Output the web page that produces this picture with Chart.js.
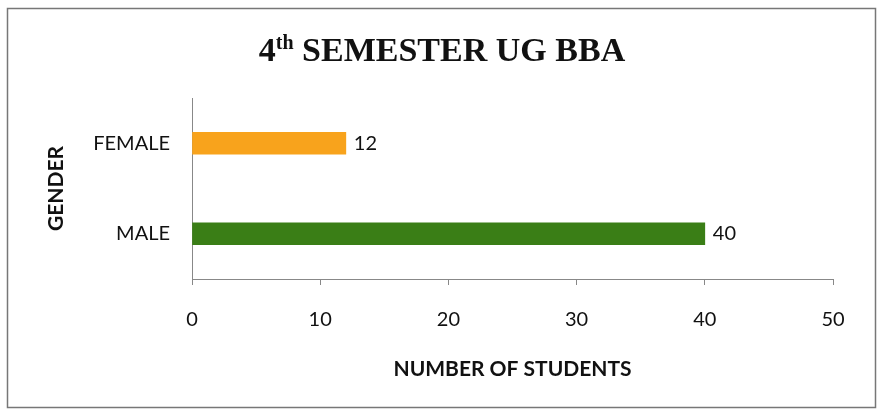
<!DOCTYPE html>
<html>
<head>
<meta charset="utf-8">
<script src="https://cdn.jsdelivr.net/npm/chart.js@4"></script>
<style>
  html, body { margin: 0; padding: 0; background: #fff; }
  #wrap { width: 884px; height: 417px; position: relative; }
</style>
</head>
<body>
<div id="wrap"><canvas id="chart"></canvas></div>
<script>
const categories = ['FEMALE', 'MALE'];
const students = [12, 40];
const barColors = ['#f8a31c', '#3a7e16'];
const xTicks = [0, 10, 20, 30, 40, 50];

const labelFont = 'Lato, "Open Sans", sans-serif';

// frame around the whole chart
const framePlugin = {
    id: 'frame',
    beforeDraw(chart) {
        const ctx = chart.ctx;
        ctx.save();
        ctx.fillStyle = '#fff';
        ctx.fillRect(0, 0, chart.width, chart.height);
        ctx.strokeStyle = '#777';
        ctx.lineWidth = 1.5;
        ctx.strokeRect(7.5, 8.5, 868, 399);
        ctx.restore();
    }
};

// title with superscript "th"
const titlePlugin = {
    id: 'supTitle',
    afterDraw(chart) {
        const ctx = chart.ctx;
        const big = 'bold 34px "Liberation Serif", "Times New Roman", serif';
        const small = 'bold 20px "Liberation Serif", "Times New Roman", serif';
        const parts = [
            { t: '4', f: big, dy: 0 },
            { t: 'th', f: small, dy: -12 },
            { t: ' SEMESTER UG BBA', f: big, dy: 0 }
        ];
        ctx.save();
        ctx.fillStyle = '#111';
        ctx.textBaseline = 'alphabetic';
        let total = 0;
        parts.forEach(p => { ctx.font = p.f; p.w = ctx.measureText(p.t).width; total += p.w; });
        let x = 442 - total / 2;
        const baseY = 61;
        parts.forEach(p => {
            ctx.font = p.f;
            ctx.fillText(p.t, x, baseY + p.dy);
            x += p.w;
        });
        ctx.restore();
    }
};

// value labels at the bar ends
const valuePlugin = {
    id: 'values',
    afterDatasetsDraw(chart) {
        const ctx = chart.ctx;
        const meta = chart.getDatasetMeta(0);
        ctx.save();
        ctx.font = '20px ' + labelFont;
        ctx.fillStyle = '#111';
        ctx.textAlign = 'left';
        ctx.textBaseline = 'middle';
        meta.data.forEach((bar, i) => {
            ctx.fillText(String(students[i]), bar.x + 8, bar.y);
        });
        ctx.restore();
    }
};

new Chart(document.getElementById('chart'), {
    type: 'bar',
    data: {
        labels: categories,
        datasets: [{
            data: students,
            backgroundColor: barColors,
            borderWidth: 0,
            barThickness: 22
        }]
    },
    options: {
        indexAxis: 'y',
        responsive: true,
        maintainAspectRatio: false,
        animation: false,
        layout: {
            padding: { top: 98, right: 51, bottom: 0, left: 0 }
        },
        plugins: {
            legend: { display: false },
            tooltip: { enabled: false },
            title: { display: false }
        },
        scales: {
            x: {
                min: xTicks[0],
                max: xTicks[xTicks.length - 1],
                afterBuildTicks(scale) {
                    scale.ticks = xTicks.map(v => ({ value: v }));
                },
                afterFit(scale) {
                    scale.height = 138;
                },
                grid: {
                    drawOnChartArea: false,
                    drawTicks: true,
                    tickLength: 6,
                    color: '#888'
                },
                border: { display: true, color: '#888', width: 1 },
                ticks: {
                    padding: 23,
                    color: '#111',
                    font: { family: labelFont, size: 20 }
                },
                title: {
                    display: true,
                    text: 'NUMBER OF STUDENTS',
                    color: '#111',
                    font: { family: labelFont, size: 21, weight: 'bold' },
                    padding: { top: 0, bottom: 35 }
                }
            },
            y: {
                afterFit(scale) {
                    scale.width = 192;
                },
                grid: { display: false },
                border: { display: true, color: '#888', width: 1 },
                ticks: {
                    padding: 14,
                    color: '#111',
                    font: { family: labelFont, size: 20 }
                },
                title: {
                    display: true,
                    text: 'GENDER',
                    color: '#111',
                    font: { family: labelFont, size: 21, weight: 'bold' },
                    padding: { top: 44, bottom: 0 }
                }
            }
        }
    },
    plugins: [framePlugin, titlePlugin, valuePlugin]
});
</script>
</body>
</html>
